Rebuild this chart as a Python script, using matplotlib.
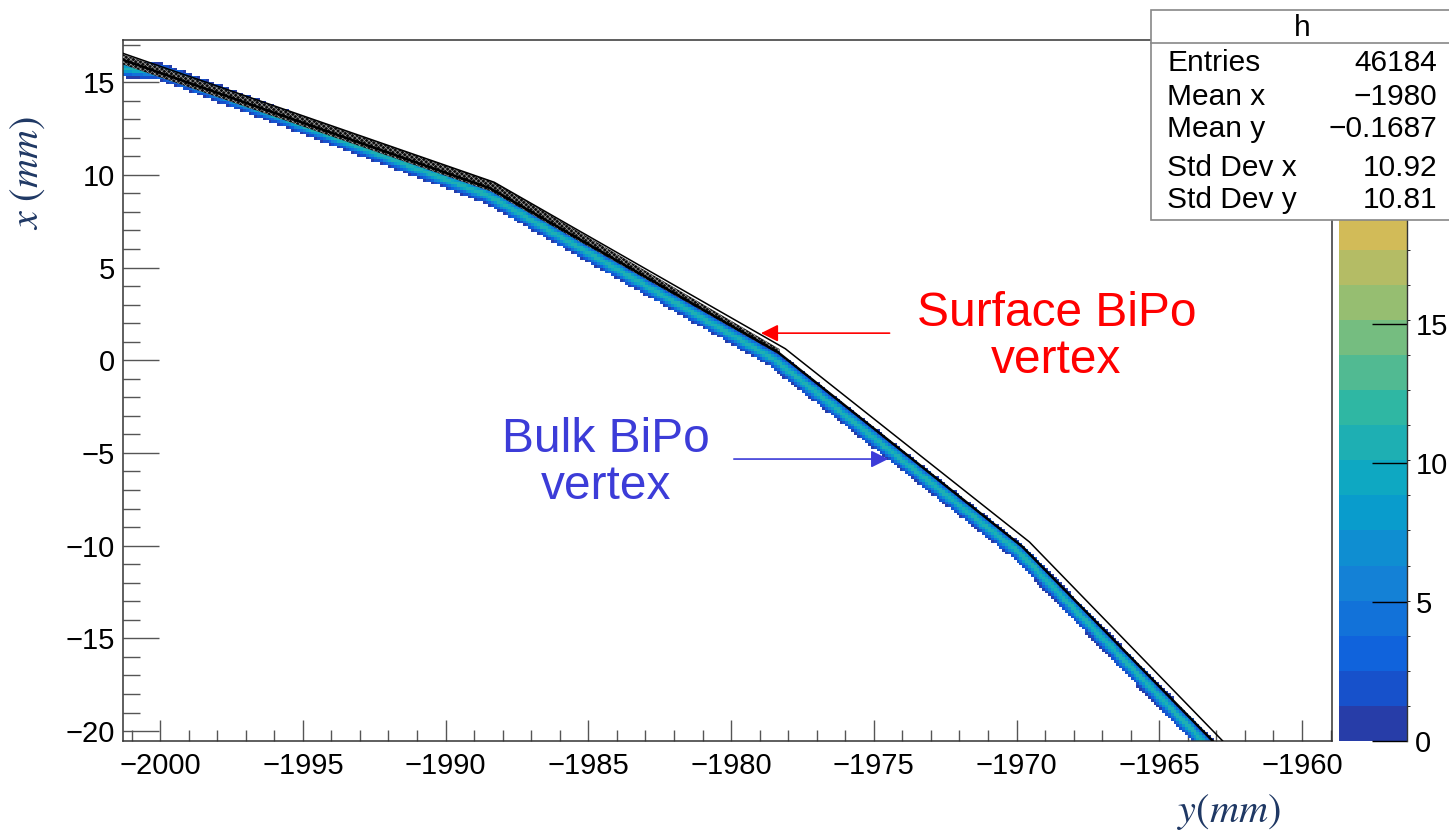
import numpy as np
import matplotlib.pyplot as plt
from matplotlib.colors import LinearSegmentedColormap, ListedColormap, BoundaryNorm
from matplotlib.patches import Rectangle, Polygon
from matplotlib.lines import Line2D
from matplotlib.ticker import MultipleLocator

plt.rcParams['font.family'] = 'Liberation Sans'
plt.rcParams['mathtext.fontset'] = 'stix'

# centre of the bulk-vertex band (horizontal: y in mm, vertical: x in mm)
band_y = [-2001.3, -2000.0, -1988.5, -1978.5, -1969.9, -1963.4, -1962.9]
band_x = [15.72, 15.58, 8.88, 0.06, -10.38, -20.66, -21.45]

# strip edges drawn as thin lines
inner_y = [-2001.3, -1988.45, -1978.35, -1969.8, -1963.15, -1962.7]
inner_x = [16.2, 9.28, 0.42, -10.05, -20.5, -21.3]
outer_y = [-2001.3, -1988.3, -1978.1, -1969.55, -1962.8, -1962.4]
outer_x = [16.55, 9.6, 0.62, -9.8, -20.5, -21.2]

# surface-vertex cloud, upper and lower edge
surf_top_y = [-2001.3, -1988.3, -1978.3]
surf_top_x = [16.5, 9.6, 0.6]
surf_bot_y = [-2001.3, -1988.4, -1978.3]
surf_bot_x = [15.95, 9.1, 0.3]

band_peak = 11.0
z_max = 25.2
n_contours = 20

stats_labels = ['Entries', 'Mean x', 'Mean y', 'Std Dev x', 'Std Dev y']
stats_values = ['46184', '\u22121980', '\u22120.1687', '10.92', '10.81']

x_lim = (-2001.3, -1958.95)
y_lim = (-20.52, 17.27)

# ROOT kBird palette
bird_stops = [0.0, 0.125, 0.25, 0.375, 0.5, 0.625, 0.75, 0.875, 1.0]
bird_r = [0.2082, 0.0592, 0.0780, 0.0232, 0.1802, 0.5301, 0.8186, 0.9956, 0.9764]
bird_g = [0.1664, 0.3599, 0.5041, 0.6419, 0.7178, 0.7492, 0.7328, 0.7862, 0.9832]
bird_b = [0.5293, 0.8684, 0.8385, 0.7914, 0.6425, 0.4662, 0.3499, 0.1968, 0.0539]
bird = LinearSegmentedColormap.from_list(
    'bird', list(zip(bird_stops, zip(bird_r, bird_g, bird_b))))
band_cmap = ListedColormap([bird((i + 1) / n_contours) for i in range(n_contours)])
levels = np.linspace(0, z_max, n_contours + 1)
norm = BoundaryNorm(levels, n_contours)

W, H = 1449, 832
fig = plt.figure(figsize=(W / 100, H / 100), dpi=100)
ax = fig.add_axes([123 / W, 1 - 740.7 / H, (1332 - 123) / W, (740.7 - 40) / H])
ax.set_xlim(*x_lim)
ax.set_ylim(*y_lim)


def dist_to_path(px, py, qx, qy):
    # pixel distance from points (px, py) to the polyline (qx, qy)
    d = np.full(px.shape, np.inf)
    for i in range(len(qx) - 1):
        ax0, ay0, bx, by = qx[i], qy[i], qx[i + 1], qy[i + 1]
        vx, vy = bx - ax0, by - ay0
        t = ((px - ax0) * vx + (py - ay0) * vy) / (vx * vx + vy * vy)
        t = np.clip(t, 0, 1)
        d = np.minimum(d, np.hypot(px - ax0 - t * vx, py - ay0 - t * vy))
    return d


# 2D histogram of the bulk vertices
y_edges = np.arange(x_lim[0], x_lim[1] + 0.1, 0.1)
x_edges = np.arange(y_lim[0], y_lim[1] + 0.15, 0.15)
yc = 0.5 * (y_edges[:-1] + y_edges[1:])
xc = 0.5 * (x_edges[:-1] + x_edges[1:])
YY, XX = np.meshgrid(yc, xc)
pix = ax.transData.transform(np.column_stack([YY.ravel(), XX.ravel()]))
path_pix = ax.transData.transform(np.column_stack([band_y, band_x]))
d = dist_to_path(pix[:, 0], pix[:, 1], path_pix[:, 0], path_pix[:, 1]).reshape(YY.shape)
counts = band_peak * np.exp(-0.5 * (d / 3.6) ** 2)
counts = np.ma.masked_less(counts, 0.7)
mesh = ax.pcolormesh(y_edges, x_edges, counts, cmap=band_cmap, norm=norm, zorder=2)

# surface vertices
plt.rcParams['hatch.linewidth'] = 0.45
surf = Polygon(list(zip(surf_top_y, surf_top_x)) + list(zip(surf_bot_y, surf_bot_x))[::-1],
               closed=True, facecolor='#0d0d0d', edgecolor='#a0a0a0',
               hatch='xxxxxxx', lw=0, zorder=3)
ax.add_patch(surf)

ax.plot(inner_y, inner_x, color='black', lw=1.8, zorder=4)
ax.plot(outer_y, outer_x, color='black', lw=1.1, zorder=4)

# axes styling
ax.xaxis.set_major_locator(MultipleLocator(5))
ax.xaxis.set_minor_locator(MultipleLocator(1))
ax.yaxis.set_major_locator(MultipleLocator(5))
ax.yaxis.set_minor_locator(MultipleLocator(1))
ax.tick_params(axis='x', which='major', direction='in', length=15, width=1,
               color='#555555', pad=8, labelsize=21)
ax.tick_params(axis='x', which='minor', direction='in', length=8, width=1, color='#555555')
ax.tick_params(axis='y', which='major', direction='in', length=26, width=1,
               color='#555555', pad=6, labelsize=21)
ax.tick_params(axis='y', which='minor', direction='in', length=12.5, width=1, color='#555555')
for s in ax.spines.values():
    s.set_color('#333333')
    s.set_linewidth(1.1)

# palette axis
cax = fig.add_axes([1339 / W, 1 - 740.7 / H, (1407 - 1339) / W, (740.7 - 40) / H])
cb = fig.colorbar(mesh, cax=cax, ticks=[0, 5, 10, 15])
cb.outline.set_linewidth(0)
cax.tick_params(direction='in', length=25, width=1, color='black', labelsize=21, pad=6)
cax.plot([1, 1], [0, 1], transform=cax.transAxes, color='#333333', lw=1, clip_on=False)

# annotations
ax.annotate('', xy=(-1979.05, 1.46), xytext=(-1974.35, 1.46),
            arrowprops=dict(arrowstyle='-|>', color='#ff0000', lw=1.2, mutation_scale=26),
            zorder=6)
ax.text(-1968.6, 1.25, 'Surface BiPo\nvertex', color='#ff0000', fontsize=34.5,
        ha='center', va='center', multialignment='center', linespacing=1.05, zorder=6)
ax.annotate('', xy=(-1974.4, -5.33), xytext=(-1980.0, -5.33),
            arrowprops=dict(arrowstyle='-|>', color='#3c3cd8', lw=1.2, mutation_scale=26),
            zorder=6)
ax.text(-1984.37, -5.55, 'Bulk BiPo\nvertex', color='#3c3cd8', fontsize=34.5,
        ha='center', va='center', multialignment='center', linespacing=1.05, zorder=6)

# axis titles
fig.text(28 / W, 1 - 173 / H, r'$x\ (mm)$', rotation=90, color='#1f3864', fontsize=29,
         ha='center', va='center')
fig.text(1229 / W, 1 - 812 / H, r'$y(mm)$', color='#1f3864', fontsize=29,
         ha='center', va='center')

# statistics box
box_l, box_t, box_b, sep = 1151 / W, 1 - 10 / H, 1 - 220 / H, 1 - 43 / H
fig.add_artist(Rectangle((box_l, box_b), 1.2 - box_l, box_t - box_b, transform=fig.transFigure,
                         facecolor='white', edgecolor='#888888', lw=1.2, zorder=20))
fig.add_artist(Line2D([box_l, 1.0], [sep, sep], transform=fig.transFigure,
                      color='#888888', lw=1.2, zorder=21))
fig.text(1302 / W, 1 - 28 / H, 'h', fontsize=21.5, ha='center', va='center', zorder=22)
row_y = [63, 97, 129, 168, 200]
for lab, val, ry in zip(stats_labels, stats_values, row_y):
    fig.text(1167 / W, 1 - ry / H, lab, fontsize=21.5, ha='left', va='center', zorder=22)
    fig.text(1437 / W, 1 - ry / H, val, fontsize=21.5, ha='right', va='center', zorder=22)

fig.savefig('out.png', dpi=100)
